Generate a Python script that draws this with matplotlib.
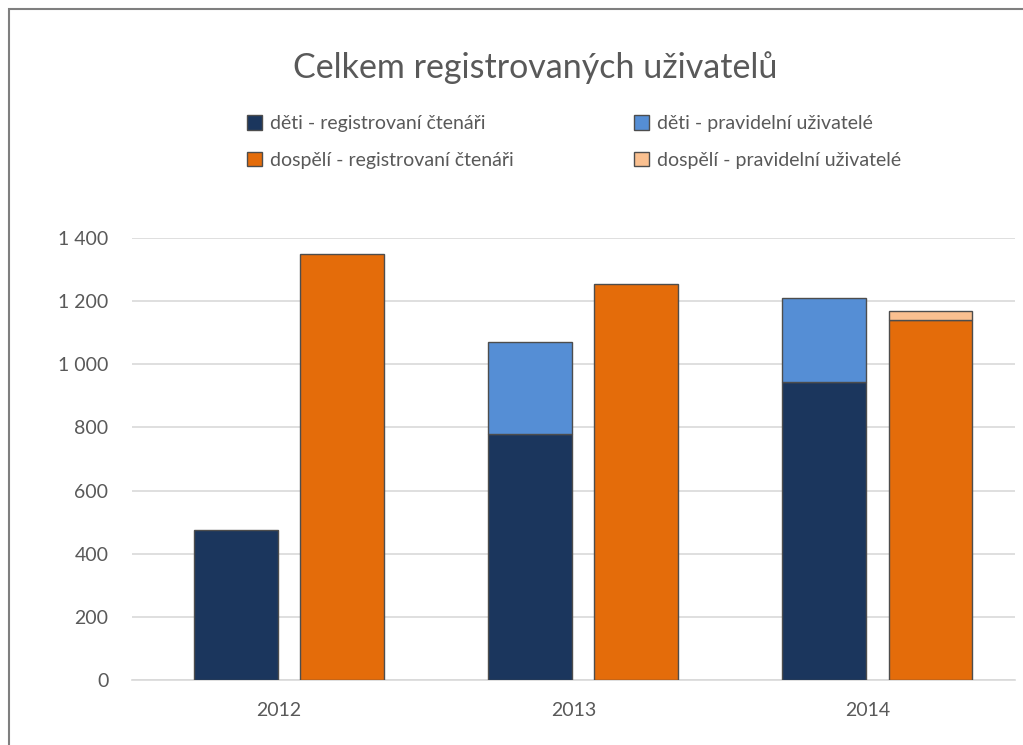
import numpy as np
import matplotlib
matplotlib.use('Agg')
from matplotlib import pyplot as plt
from matplotlib.patches import Rectangle, Patch
from matplotlib.ticker import FuncFormatter

plt.rcParams['font.family'] = ['Lato', 'DejaVu Sans']

years = ['2012', '2013', '2014']
deti_registrovani = [475, 780, 945]
deti_pravidelni = [0, 290, 265]
dospeli_registrovani = [1350, 1255, 1140]
dospeli_pravidelni = [0, 0, 28]

labels = ['děti - registrovaní čtenáři', 'děti - pravidelní uživatelé',
          'dospělí - registrovaní čtenáři', 'dospělí - pravidelní uživatelé']
colors = ['#1B365D', '#558ED5', '#E46C0A', '#FAC090']
text_col = '#595959'

fig = plt.figure(figsize=(10.23, 7.45), dpi=100)
ax = fig.add_axes([132 / 1023, 65 / 745, 883 / 1023, 442 / 745])

x = np.arange(len(years))
w = 0.285
edge = dict(edgecolor='#4d4d4d', linewidth=1.0)

b1 = ax.bar(x - 0.148, deti_registrovani, w, color=colors[0], zorder=3, **edge)
b2 = ax.bar(x - 0.148, deti_pravidelni, w, bottom=deti_registrovani,
            color=colors[1], zorder=3, **edge)
b3 = ax.bar(x + 0.213, dospeli_registrovani, w, color=colors[2], zorder=3, **edge)
b4 = ax.bar(x + 0.213, dospeli_pravidelni, w, bottom=dospeli_registrovani,
            color=colors[3], zorder=3, **edge)
# hide zero-height segments
for bars, vals in ((b2, deti_pravidelni), (b4, dospeli_pravidelni)):
    for bar, v in zip(bars, vals):
        if v == 0:
            bar.set_visible(False)

ax.set_xlim(-0.5, 2.5)
ax.set_ylim(0, 1400)
ax.set_yticks(range(0, 1401, 200))
ax.yaxis.set_major_formatter(FuncFormatter(lambda v, p: '{:,}'.format(int(v)).replace(',', ' ')))
ax.set_xticks(x)
ax.set_xticklabels(years)
ax.grid(axis='y', color='#D9D9D9', linewidth=1.2, zorder=0)
for s in ['top', 'right', 'left']:
    ax.spines[s].set_visible(False)
ax.spines['bottom'].set_color('#D9D9D9')
ax.spines['bottom'].set_linewidth(1.2)
ax.tick_params(length=0, labelsize=14, labelcolor=text_col)
ax.tick_params(axis='y', pad=17)
ax.tick_params(axis='x', pad=16)

fig.text(535 / 1023, 1 - 68 / 745, 'Celkem registrovaných uživatelů',
         ha='center', va='center', fontsize=24.5, color=text_col)

proxies = [Patch(facecolor=c, **edge) for c in colors]
leg_kw = dict(loc='center left', frameon=False, fontsize=14,
              labelcolor=text_col, handlelength=0.75, handleheight=0.75,
              handletextpad=0.45, labelspacing=1.0, borderpad=0,
              borderaxespad=0)
leg1 = fig.legend([proxies[0], proxies[2]], [labels[0], labels[2]],
                  bbox_to_anchor=(247 / 1023, 1 - 142 / 745), **leg_kw)
leg2 = fig.legend([proxies[1], proxies[3]], [labels[1], labels[3]],
                  bbox_to_anchor=(634 / 1023, 1 - 142 / 745), **leg_kw)

# chart frame
fig.add_artist(Rectangle((9 / 1023, -0.1), 1.2, 1 - 9 / 745 + 0.1,
                         transform=fig.transFigure, fill=False,
                         edgecolor='#7f7f7f', linewidth=1.5))

fig.savefig('out.png', dpi=100)
